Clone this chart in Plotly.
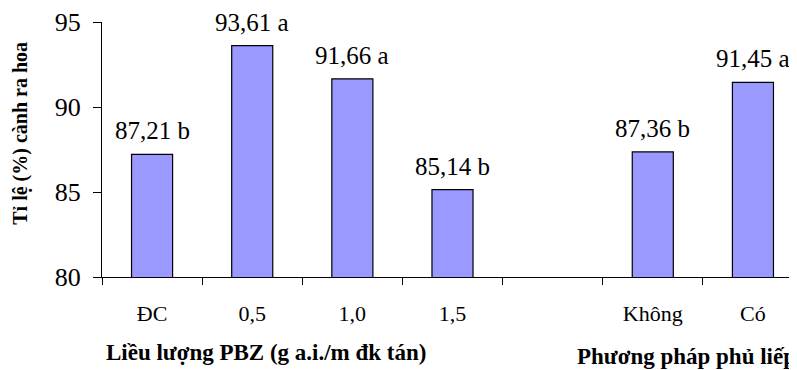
import plotly.graph_objects as go

categories = ["ĐC", "0,5", "1,0", "1,5", " ", "Không", "Có"]
values = [87.21, 93.61, 91.66, 85.14, None, 87.36, 91.45]
letters = ["b", "a", "a", "b", "", "b", "a"]
y_ticks = [80, 85, 90, 95]

FONT = "Liberation Serif"

fig = go.Figure()
fig.add_trace(go.Bar(
    x=categories, y=values, width=0.41,
    marker=dict(color="#9999FF", line=dict(color="black", width=1.2)),
    hoverinfo="skip",
))

annotations = []
for c, v, l in zip(categories, values, letters):
    if v is None:
        continue
    annotations.append(dict(
        x=c, y=v, xref="x", yref="y", text=f"{v:.2f}".replace(".", ",") + " " + l,
        showarrow=False, yanchor="bottom", yshift=8,
        font=dict(family=FONT, size=25, color="black"),
    ))

annotations += [
    dict(x=-0.1165, y=0.562, xref="paper", yref="paper", text="<b>Tỉ lệ (%) cành ra hoa</b>",
         textangle=-90, showarrow=False, xanchor="center", yanchor="middle",
         font=dict(family=FONT, size=20, color="black")),
    dict(x=0.236, y=-0.298, xref="paper", yref="paper", text="<b>Liều lượng PBZ (g a.i./m đk tán)</b>",
         showarrow=False, xanchor="center", yanchor="middle",
         font=dict(family=FONT, size=23, color="black")),
    dict(x=0.681, y=-0.31, xref="paper", yref="paper", text="<b>Phương pháp phủ liếp</b>",
         showarrow=False, xanchor="left", yanchor="middle",
         font=dict(family=FONT, size=23, color="black")),
]

fig.update_layout(
    width=789, height=362,
    margin=dict(l=94, r=0, t=11, b=93),
    paper_bgcolor="white", plot_bgcolor="white",
    showlegend=False,
    annotations=annotations,
    xaxis=dict(
        type="category", range=[-0.5, 6.44], tickson="boundaries",
        ticks="outside", ticklen=7, tickcolor="black", tickwidth=1,
        showline=True, linecolor="black", linewidth=1,
        showgrid=False, zeroline=False,
        tickfont=dict(family=FONT, size=22, color="black"),
        ticklabelstandoff=17,
    ),
    yaxis=dict(
        range=[80, 95], tickvals=y_ticks,
        ticks="outside", ticklen=8, tickcolor="black", tickwidth=1,
        showline=True, linecolor="black", linewidth=1,
        showgrid=False, zeroline=False,
        tickfont=dict(family=FONT, size=26, color="black"),
        ticklabelstandoff=7,
        ticklabeloverflow="allow",
    ),
)

fig.write_html("out.html")
